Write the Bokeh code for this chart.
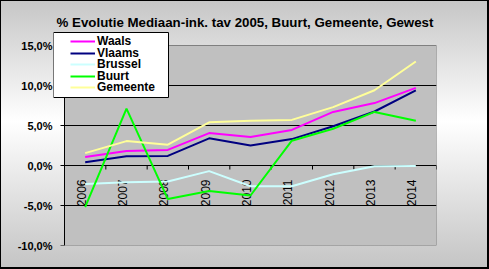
from bokeh.plotting import figure
from bokeh.models import Range1d, FixedTicker, Legend, LegendItem
from bokeh.core.properties import value
from bokeh.embed import file_html
from bokeh.resources import INLINE
import math

years = ["2006", "2007", "2008", "2009", "2010", "2011", "2012", "2013", "2014"]
waals = [1.05, 1.8, 1.95, 4.05, 3.55, 4.45, 6.7, 7.8, 9.7]
vlaams = [0.42, 1.15, 1.2, 3.4, 2.5, 3.3, 4.9, 6.75, 9.4]
brussel = [-2.3, -2.1, -2.0, -0.7, -2.6, -2.6, -1.1, -0.1, -0.05]
buurt = [-5.2, 7.1, -4.2, -3.2, -3.75, 3.1, 4.6, 6.7, 5.6]
gemeente = [1.55, 3.05, 2.6, 5.4, 5.6, 5.7, 7.3, 9.4, 13.0]
y_ticks = [-10, -5, 0, 5, 10, 15]
y_tick_labels = ["-10,0%", "-5,0%", "0,0%", "5,0%", "10,0%", "15,0%"]
title = "% Evolutie Mediaan-ink. tav 2005, Buurt, Gemeente, Gewest"

series = [
    ("Waals", waals, "#FF00FF"),
    ("Vlaams", vlaams, "#000080"),
    ("Brussel", brussel, "#CCFFFF"),
    ("Buurt", buurt, "#00FF00"),
    ("Gemeente", gemeente, "#FFFF99"),
]

FONT = "Liberation Sans"
xs = list(range(len(years)))

# layout (pixels)
W, H = 489, 269
area_l, area_r, area_t, area_b = 64, 436, 45, 245   # plot area
frame_l, frame_t = 53, 30                           # frame extended to hold the legend
leg_l, leg_r, leg_t, leg_b = 53, 168, 32, 97        # legend box
row0, row_step = 41, 11.6                           # legend row centres
ymin, ymax = min(y_ticks), max(y_ticks)
px_per_x = (area_r - area_l) / len(years)
px_per_y = (area_b - area_t) / (ymax - ymin)


def dx(px):
    return -0.5 + (px - area_l) / px_per_x


def dy(py):
    return ymax - (py - area_t) / px_per_y


p = figure(width=W, height=H, output_backend="svg", toolbar_location=None,
           x_range=Range1d(dx(frame_l), len(years) - 0.5), y_range=Range1d(ymin, dy(frame_t)),
           min_border_left=frame_l, min_border_right=W - area_r, min_border_top=frame_t,
           min_border_bottom=H - area_b)
p.border_fill_color = None
p.background_fill_color = None
p.outline_line_color = None
p.styles = {"background": "linear-gradient(to bottom, #c6c6c6 0%, #ffffff 45%, #c4c4c4 100%)",
            "box-shadow": "inset 1px 1px 0 0 #000, inset -2px -2px 0 0 #000"}

p.title.text = title
p.title.align = "center"
p.title.text_font = FONT
p.title.text_font_size = "13.3px"
p.title.text_font_style = "bold"
p.title.text_color = "#000000"
p.title.standoff = 2

p.xaxis.visible = False
p.xgrid.visible = False
p.ygrid.visible = False

p.yaxis.ticker = FixedTicker(ticks=y_ticks)
p.yaxis.major_label_overrides = {t: l for t, l in zip(y_ticks, y_tick_labels)}
p.yaxis.minor_tick_line_color = None
p.yaxis.major_tick_line_color = None
p.yaxis.major_tick_in = 0
p.yaxis.major_tick_out = 0
p.yaxis.axis_line_color = None
p.yaxis.major_label_standoff = 1
p.yaxis.major_label_text_font = FONT
p.yaxis.major_label_text_font_size = "11px"
p.yaxis.major_label_text_font_style = "bold"
p.yaxis.major_label_text_color = "#000000"

# plot area
p.quad(left=[-0.5], right=[len(years) - 0.5], bottom=[ymin], top=[ymax],
       fill_color="#C0C0C0", line_color="#808080", line_width=1, level="underlay")

# horizontal gridlines
gy = [t for t in y_ticks if t not in (ymin, ymax)]
p.segment(x0=[-0.5] * len(gy), y0=gy, x1=[len(years) - 0.5] * len(gy), y1=gy,
          line_color="#000000", line_width=1)

# value axis line + ticks
p.segment(x0=[-0.5], y0=[ymin], x1=[-0.5], y1=[ymax], line_color="#000000", line_width=1)
p.segment(x0=[-0.5] * len(y_ticks), y0=y_ticks, x1=[dx(area_l - 4)] * len(y_ticks), y1=y_ticks,
          line_color="#000000", line_width=1)

# category boundary ticks on the zero axis
bx = [i + 0.5 for i in xs]
p.segment(x0=bx, y0=[0] * len(bx), x1=bx, y1=[-4 / px_per_y] * len(bx), line_color="#000000", line_width=1)

# rotated category labels under the zero line
p.text(x=xs, y=[0] * len(xs), text=years, angle=math.pi / 2,
       text_align="right", text_baseline="middle", x_offset=-4, y_offset=14,
       text_font=value(FONT), text_font_size="12px", text_color="#000000")

renderers = []
for name, vals, col in series:
    r = p.line(xs, vals, line_color=col, line_width=2)
    renderers.append((name, r))

# legend box, drawn over the series
p.quad(left=[dx(leg_l)], right=[dx(leg_r)], bottom=[dy(leg_b)], top=[dy(leg_t)],
       fill_color="#FFFFFF", fill_alpha=1.0, line_color="#000000", line_width=1)

# one legend per entry so the row pitch matches the original
for i, (name, r) in enumerate(renderers):
    centre = row0 + i * row_step
    lg = Legend(items=[LegendItem(label=name, renderers=[r])],
                location=(leg_l - frame_l + 17, area_b - centre - 7), margin=0, padding=0, spacing=0,
                glyph_width=25, glyph_height=10, label_height=10, label_standoff=2,
                label_text_font=FONT, label_text_font_size="12px", label_text_font_style="bold",
                label_text_color="#000000", background_fill_alpha=0, border_line_color=None)
    p.add_layout(lg)

open("out.html", "w").write(file_html(p, INLINE))
